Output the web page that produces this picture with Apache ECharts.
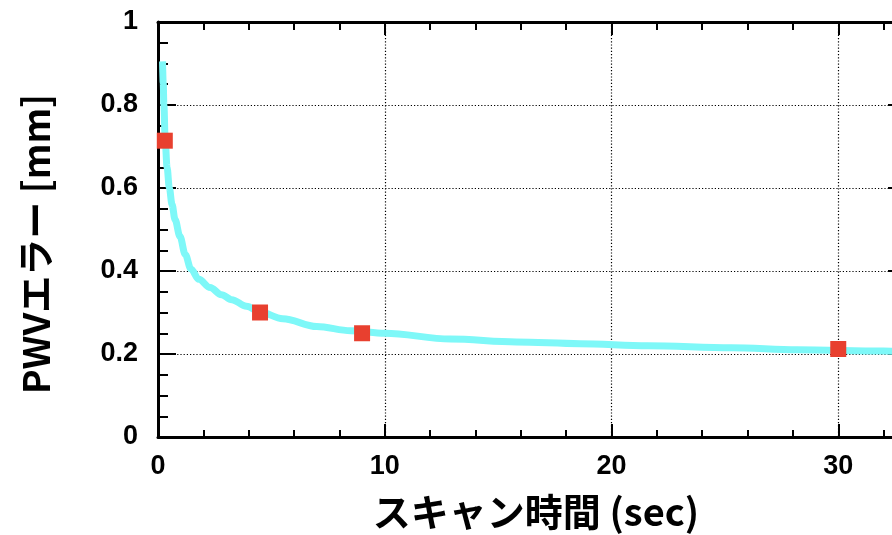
<!DOCTYPE html>
<html>
<head>
<meta charset="utf-8">
<script src="https://cdn.jsdelivr.net/npm/echarts@6/dist/echarts.min.js"></script>
<style>
  html, body { margin: 0; padding: 0; background: #fff; }
  #chart { width: 892px; height: 535px; }
</style>
</head>
<body>
<div id="chart"></div>
<script>
// PWV error vs. scan time: fitted curve plus measured points
const curveTime  = [0.2, 0.23, 0.26, 0.32, 0.4, 0.5, 0.62, 0.75, 0.97, 1.2, 1.45, 1.8, 2.3, 2.8, 3.25, 3.9, 4.5, 5.5, 7.0, 8.5, 10, 12.9, 15.8, 18.6, 21.6, 25.3, 28.2, 32, 34];
const curveError = [0.905, 0.853, 0.80, 0.71, 0.65, 0.60, 0.56, 0.524, 0.483, 0.44, 0.405, 0.38, 0.36, 0.343, 0.331, 0.315, 0.301, 0.285, 0.266, 0.256, 0.250, 0.236, 0.229, 0.225, 0.220, 0.215, 0.210, 0.207, 0.205];

const pointTime  = [0.3, 4.5, 9, 30];
const pointError = [0.714, 0.30, 0.25, 0.212];

const xTicks = { min: 0, max: 40, interval: 10 };
const yTicks = { min: 0, max: 1, interval: 0.2 };

const NUM_FONT = '"Liberation Sans", Arial, sans-serif';
const JP_FONT = '"Noto Sans CJK JP", "Liberation Sans", sans-serif';

const axisLine = { show: true, onZero: false, lineStyle: { color: '#000', width: 3 } };
const dotted = { show: true, lineStyle: { color: '#000', width: 1.2, type: [1.2, 2] } };

const chart = echarts.init(document.getElementById('chart'), null, { renderer: 'canvas' });

chart.setOption({
  animation: false,
  backgroundColor: '#fff',
  grid: {
    left: 158, top: 22, width: 907, height: 415,
    outerBoundsMode: 'none', containLabel: false
  },
  xAxis: [
    {
      type: 'value', position: 'bottom',
      min: xTicks.min, max: xTicks.max, interval: xTicks.interval,
      axisLine: axisLine,
      axisTick: { show: true, inside: true, length: 13, lineStyle: { color: '#000', width: 2 } },
      minorTick: { show: true, splitNumber: 5, length: 7, lineStyle: { color: '#000', width: 2 } },
      splitLine: dotted,
      axisLabel: { color: '#000', fontFamily: NUM_FONT, fontWeight: 'bold', fontSize: 27, margin: 16 },
      name: 'スキャン時間 (sec)',
      nameLocation: 'middle',
      nameGap: 56,
      nameTextStyle: { color: '#000', fontFamily: JP_FONT, fontWeight: 'bold', fontSize: 38, padding: [0, 151, 0, 0] }
    },
    {
      type: 'value', position: 'top',
      min: xTicks.min, max: xTicks.max, interval: xTicks.interval,
      axisLine: axisLine,
      axisTick: { show: true, inside: true, length: 13, lineStyle: { color: '#000', width: 2 } },
      minorTick: { show: true, splitNumber: 5, length: 8, lineStyle: { color: '#000', width: 2 } },
      splitLine: { show: false },
      axisLabel: { show: false }
    }
  ],
  yAxis: [
    {
      type: 'value', position: 'left',
      min: yTicks.min, max: yTicks.max, interval: yTicks.interval,
      axisLine: axisLine,
      axisTick: { show: true, inside: true, length: 18, lineStyle: { color: '#000', width: 2 } },
      minorTick: { show: true, splitNumber: 4, length: 10, lineStyle: { color: '#000', width: 2 } },
      splitLine: dotted,
      axisLabel: { color: '#000', fontFamily: NUM_FONT, fontWeight: 'bold', fontSize: 27, margin: 20 },
      name: 'PWVエラー [mm]',
      nameLocation: 'middle',
      nameGap: 104,
      nameRotate: 90,
      nameTextStyle: { color: '#000', fontFamily: JP_FONT, fontWeight: 'bold', fontSize: 37, padding: [0, 29, 0, 0] }
    },
    {
      // mirrored right-hand frame ticks
      type: 'value', position: 'right', offset: -159,
      min: yTicks.min, max: yTicks.max, interval: yTicks.interval,
      axisLine: axisLine,
      axisTick: { show: true, inside: true, length: 18, lineStyle: { color: '#000', width: 2 } },
      minorTick: { show: true, splitNumber: 4, length: 10, lineStyle: { color: '#000', width: 2 } },
      splitLine: { show: false },
      axisLabel: { show: false }
    }
  ],
  series: [
    {
      type: 'line',
      xAxisIndex: 0, yAxisIndex: 0,
      data: curveTime.map((t, i) => [t, curveError[i]]),
      smooth: 0.35,
      smoothMonotone: 'x',
      showSymbol: false,
      lineStyle: { color: '#7ef8f8', width: 7 },
      z: 2
    },
    {
      type: 'scatter',
      xAxisIndex: 0, yAxisIndex: 0,
      data: pointTime.map((t, i) => [t, pointError[i]]),
      symbol: 'rect',
      symbolSize: 16,
      itemStyle: { color: '#e8402f', opacity: 1 },
      z: 3
    }
  ]
});
</script>
</body>
</html>
